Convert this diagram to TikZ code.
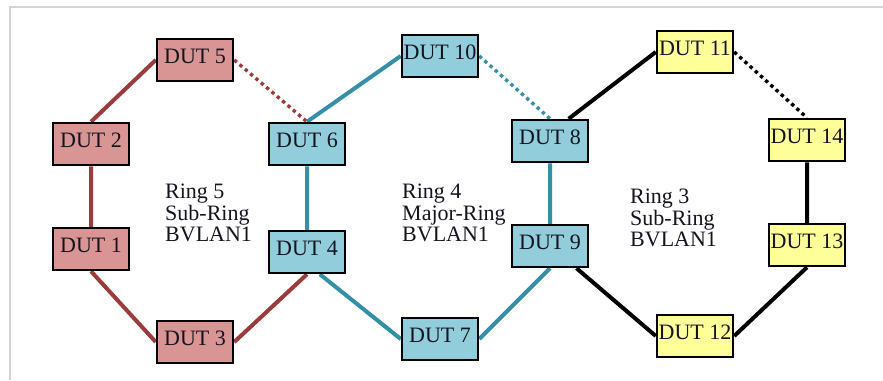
\documentclass[tikz,border=0pt]{standalone}
\usepackage{fontspec}
\setmainfont{Liberation Serif}
\usepackage{tikz}
\usetikzlibrary{backgrounds}
\definecolor{ink}{HTML}{141420}
\definecolor{frame}{HTML}{D4D4D4}
\definecolor{pinkbox}{HTML}{D99594}
\definecolor{bluebox}{HTML}{92CDDC}
\definecolor{yellowbox}{HTML}{FFFF99}
\definecolor{brownline}{HTML}{9B3B3B}
\definecolor{tealline}{HTML}{3490A8}

\tikzset{
  dutbox/.style={draw=black,line width=2.5pt,minimum width=76pt,minimum height=42pt,
    inner sep=0pt,text height=15pt,text depth=8pt,text=ink,font=\fontsize{22}{22}\selectfont},
  ringlabel/.style={anchor=north west,inner sep=0pt,align=left,text=ink,
    font=\fontsize{22}{21.5}\selectfont},
  link/.style={line width=4pt},
  standby/.style={line width=3.4pt,dash pattern=on 3.4pt off 3.6pt}
}

\begin{document}
\begin{tikzpicture}[x=1pt,y=-1pt]
\useasboundingbox (0,0) rectangle (883,380);
\draw[frame,line width=1.4pt] (883,7)--(10,7)--(10,380);
% switches
\foreach \n/\x/\y/\c in {5/195/60/pinkbox,2/91/144/pinkbox,1/91/249/pinkbox,3/195/342/pinkbox,
  6/307/144/bluebox,4/307/252/bluebox,10/440/56/bluebox,8/550/141/bluebox,9/550/246/bluebox,7/440/339/bluebox,
  11/695/52/yellowbox,14/807/140/yellowbox,13/807/245/yellowbox,12/695/336/yellowbox}
  \node[dutbox,fill=\c] (dut\n) at (\x,\y) {DUT \n};
% rings
\begin{scope}[on background layer]
\draw[link,brownline] (dut5.west)--(dut2.north) (dut2)--(dut1) (dut1.south)--(dut3.west) (dut3.east)--(dut4.south);
\draw[standby,brownline] (dut5.east)--(dut6.north);
\draw[link,tealline] (dut6.north)--(dut10.west) (dut6)--(dut4) (dut4.-60)--(dut7.west) (dut7.east)--(dut9.south) (dut9)--(dut8);
\draw[standby,tealline] (dut10.east)--(dut8.north);
\draw[link,black] (dut8.50)--(dut11.west) (dut14)--(dut13) (dut13.south)--(dut12.east) (dut12.west)--(dut9.-40);
\draw[standby,black] (dut11.east)--(dut14.north);
\end{scope}
\node[ringlabel] (r5) at (165,184) {Ring 5\\Sub-Ring\\BVLAN1};
\node[ringlabel] (r4) at (402,184) {Ring 4\\Major-Ring\\BVLAN1};
\node[ringlabel] (r3) at (630,189) {Ring 3\\Sub-Ring\\BVLAN1};
\end{tikzpicture}
\end{document}
